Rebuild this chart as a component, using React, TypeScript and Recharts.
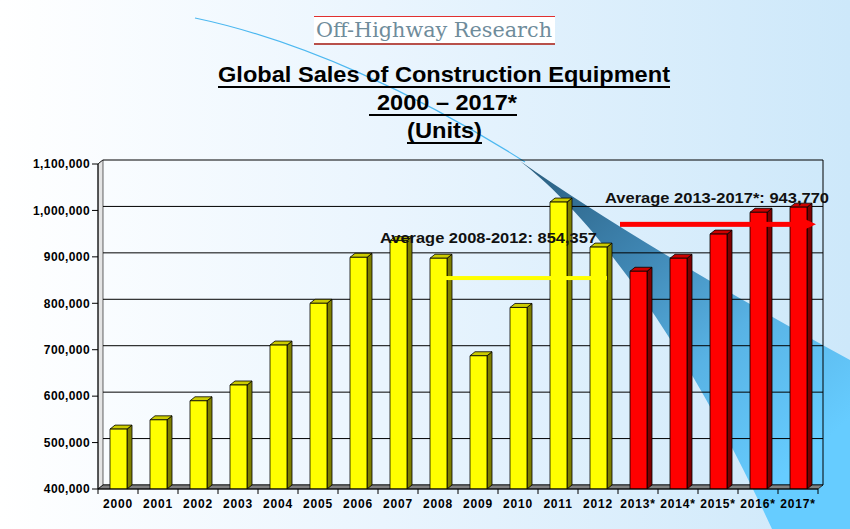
import React from "react";
import {
  BarChart,
  Bar,
  XAxis,
  YAxis,
  CartesianGrid,
  ReferenceArea,
  ReferenceLine,
} from "recharts";

// chart values
const years = [
  "2000", "2001", "2002", "2003", "2004", "2005", "2006", "2007", "2008",
  "2009", "2010", "2011", "2012", "2013*", "2014*", "2015*", "2016*", "2017*",
];
const units = [
  529000, 549000, 590000, 624000, 710000, 800000, 899000, 935000, 897000,
  687000, 791000, 1018000, 921000, 869000, 897000, 949000, 996000, 1007000,
];
const yTicks = [400000, 500000, 600000, 700000, 800000, 900000, 1000000, 1100000];
const avgActual = 854357; // 2008-2012
const avgForecast = 943770; // 2013-2017*
// the red arrow sits a bit above its stated average on the slide
const forecastArrowLevel = 970000;

const data = years.map((year, i) => ({
  year,
  units: units[i],
  forecast: year.endsWith("*"),
}));

const DX = 5;
const DY = 4;
const fmt = (v: number) => v.toLocaleString("en-US");

function Bar3D(props: any) {
  const { x, y, width, height, payload } = props;
  const front = payload.forecast ? "#ff0000" : "#ffff00";
  const top = payload.forecast ? "#cc0000" : "#cccc00";
  const side = payload.forecast ? "#800000" : "#808000";
  return (
    <g stroke="#000" strokeWidth={0.8} strokeLinejoin="round">
      <polygon
        points={`${x + width},${y} ${x + width + DX},${y - DY} ${x + width + DX},${y + height - DY} ${x + width},${y + height}`}
        fill={side}
      />
      <polygon
        points={`${x},${y} ${x + DX},${y - DY} ${x + width + DX},${y - DY} ${x + width},${y}`}
        fill={top}
      />
      <rect x={x} y={y} width={width} height={height} fill={front} />
    </g>
  );
}

function GridLine(props: any) {
  const { x1, y1, x2 } = props;
  return (
    <polyline
      key={props.key}
      points={`${x1},${y1} ${x1 + DX},${y1 - DY} ${x2 + DX},${y1 - DY}`}
      fill="none"
      stroke="#000"
      strokeWidth={1}
    />
  );
}

function Walls(props: any) {
  const { x, y, width, height } = props;
  const b = y + height;
  return (
    <g stroke="#000" strokeWidth={1}>
      <polygon
        points={`${x},${y} ${x + DX},${y - DY} ${x + DX},${b - DY} ${x},${b}`}
        fill="#e4e4e4"
        strokeWidth={0.6}
      />
      <line x1={x + width + DX} y1={y - DY} x2={x + width + DX} y2={b - DY} />
      <polygon
        points={`${x},${b} ${x + DX},${b - DY} ${x + width + DX},${b - DY} ${x + width},${b}`}
        fill="#808080"
        strokeWidth={0.7}
      />
    </g>
  );
}

function YearTick(props: any) {
  const { x, y, payload, index } = props;
  const band = 720 / years.length;
  const axisY = y - 8;
  return (
    <g>
      <line x1={x - band / 2} y1={axisY} x2={x - band / 2} y2={axisY + 5} stroke="#000" />
      {index === years.length - 1 && (
        <line x1={x + band / 2} y1={axisY} x2={x + band / 2} y2={axisY + 5} stroke="#000" />
      )}
      <text
        x={x}
        y={axisY + 19}
        textAnchor="middle"
        fontSize={12}
        fontWeight="bold"
        fill="#000"
        letterSpacing={0.8}
      >
        {payload.value}
      </text>
    </g>
  );
}

function ActualAvgLine(props: any) {
  const { x1, y1, x2 } = props;
  return <rect x={x1 + 7} y={y1 - 2} width={x2 - x1 + 2} height={4} fill="#ffff00" />;
}

function ForecastArrow(props: any) {
  const { x1, y1, x2 } = props;
  return (
    <g fill="#ff0000">
      <rect x={x1 - 18} y={y1 - 2.5} width={x2 - x1 + 24} height={5} />
      <polygon points={`${x2 + 5},${y1 - 6} ${x2 + 18},${y1} ${x2 + 5},${y1 + 6}`} />
    </g>
  );
}

function avgLabel(text: string, dx: number, dy: number, len: number) {
  return (p: any) => {
    const vb = p.viewBox || {};
    return (
      <text
        x={vb.x + dx}
        y={vb.y + dy}
        fontSize={15}
        fontWeight="bold"
        fill="#111"
        textLength={len}
        lengthAdjust="spacingAndGlyphs"
      >
        {text}
      </text>
    );
  };
}

function Background() {
  return (
    <svg
      width={850}
      height={529}
      style={{ position: "absolute", left: 0, top: 0 }}
      fontFamily="'Liberation Sans', Arial, sans-serif"
    >
      <defs>
        <linearGradient id="bg" x1="0" y1="0" x2="1" y2="0">
          <stop offset="0" stopColor="#ffffff" />
          <stop offset="0.45" stopColor="#eaf5fe" />
          <stop offset="1" stopColor="#cde8fa" />
        </linearGradient>
        <linearGradient
          id="swoosh"
          gradientUnits="userSpaceOnUse"
          x1={530}
          y1={165}
          x2={790}
          y2={470}
        >
          <stop offset="0" stopColor="#2b5f80" />
          <stop offset="0.35" stopColor="#3f86b3" />
          <stop offset="0.65" stopColor="#58b2e4" />
          <stop offset="1" stopColor="#66ccff" />
        </linearGradient>
      </defs>
      <rect width={850} height={529} fill="url(#bg)" />
      <path
        d="M195,18 C300,40 420,95 525,162"
        fill="none"
        stroke="#4db8f0"
        strokeWidth={1.2}
      />
      <path
        d="M520,161 Q640,245 850,360 L850,529 L772,529 C680,330 590,215 520,161 Z"
        fill="url(#swoosh)"
      />

      {/* logo */}
      <rect x={314} y={16} width={241} height={29} fill="#ffffff" />
      <line x1={314} y1={16.5} x2={555} y2={16.5} stroke="#e03030" strokeWidth={1} />
      <line x1={314} y1={44} x2={555} y2={44} stroke="#b8504a" strokeWidth={2} />
      <text
        x={316}
        y={37}
        fontFamily="'DejaVu Serif', serif"
        fontSize={21}
        fill="#6f8c9b"
        textLength={236}
        lengthAdjust="spacingAndGlyphs"
      >
        Off-Highway Research
      </text>

      {/* title */}
      <g fontWeight="bold" fontSize={22} fill="#000">
        <text x={218} y={82} textLength={452} lengthAdjust="spacingAndGlyphs">
          Global Sales of Construction Equipment
        </text>
        <text x={377} y={110} textLength={140} lengthAdjust="spacingAndGlyphs">
          2000 – 2017*
        </text>
        <text x={407} y={138} textLength={75} lengthAdjust="spacingAndGlyphs">
          (Units)
        </text>
      </g>
      <g fill="#000">
        <rect x={218} y={86} width={452} height={2} />
        <rect x={369} y={114} width={148} height={2} />
        <rect x={407} y={142} width={75} height={2} />
      </g>
    </svg>
  );
}

export default function App() {
  return (
    <div style={{ position: "absolute", left: 0, top: 0, width: 850, height: 529 }}>
      <Background />
      <div style={{ position: "absolute", left: 0, top: 0 }}>
        <BarChart
          width={850}
          height={529}
          data={data}
          margin={{ top: 164, right: 32, bottom: 10, left: 0 }}
          style={{ fontFamily: "'Liberation Sans', Arial, sans-serif" }}
        >
          <CartesianGrid vertical={false} horizontal={(p: any) => <GridLine {...p} />} />
          <ReferenceArea
            y1={400000}
            y2={1100000}
            shape={(p: any) => <Walls {...p} />}
          />
          <XAxis
            dataKey="year"
            height={30}
            tickLine={false}
            axisLine={{ stroke: "#000" }}
            interval={0}
            tick={(p: any) => <YearTick {...p} />}
          />
          <YAxis
            width={98}
            domain={[400000, 1100000]}
            ticks={yTicks}
            allowDataOverflow
            tickFormatter={fmt}
            axisLine={{ stroke: "#000" }}
            tickLine={{ stroke: "#000" }}
            tick={{ fill: "#000", fontSize: 12, fontWeight: "bold", letterSpacing: 0.4 }}
          />
          <Bar
            dataKey="units"
            barSize={17}
            isAnimationActive={false}
            shape={(p: any) => <Bar3D {...p} />}
          />
          <ReferenceLine
            segment={[
              { x: "2008", y: avgActual },
              { x: "2012", y: avgActual },
            ]}
            shape={(p: any) => <ActualAvgLine {...p} />}
            label={avgLabel(`Average 2008-2012: ${fmt(avgActual)}`, -58, -35, 217)}
          />
          <ReferenceLine
            segment={[
              { x: "2013*", y: forecastArrowLevel },
              { x: "2017*", y: forecastArrowLevel },
            ]}
            shape={(p: any) => <ForecastArrow {...p} />}
            label={avgLabel(`Average 2013-2017*: ${fmt(avgForecast)}`, -33, -21, 224)}
          />
        </BarChart>
      </div>
    </div>
  );
}
